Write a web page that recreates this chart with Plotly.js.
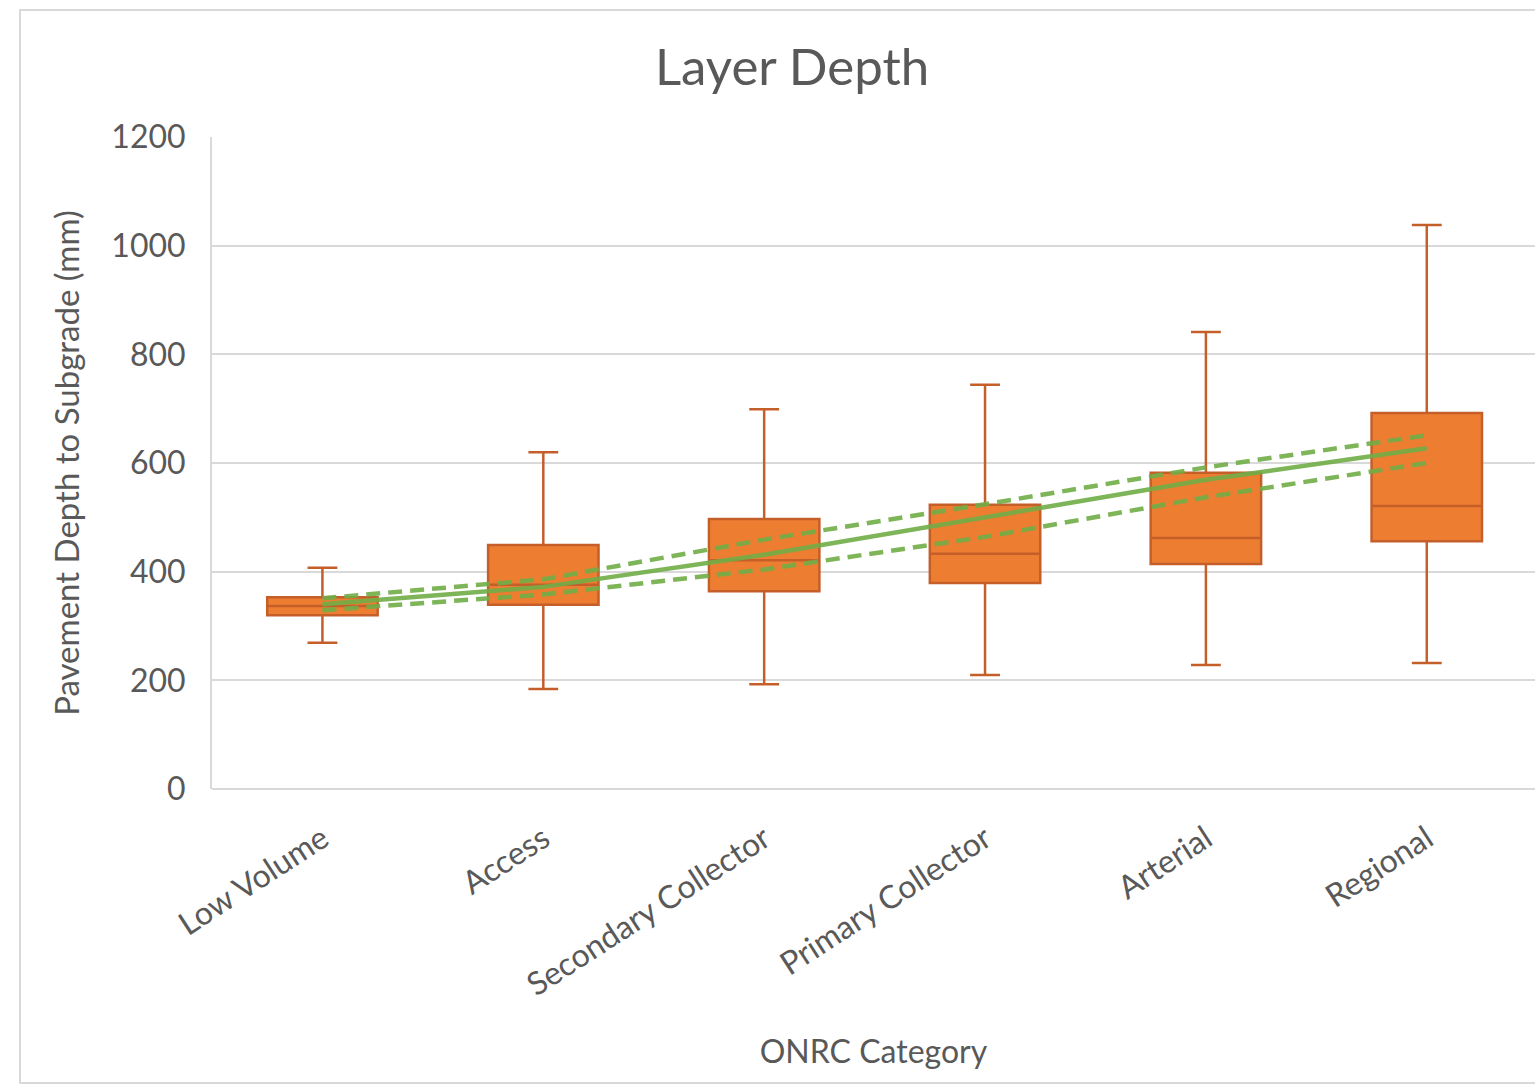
<!DOCTYPE html>
<html>
<head>
<meta charset="utf-8">
<script src="https://cdn.plot.ly/plotly-3.0.1.min.js"></script>
<style>
  html, body { margin: 0; padding: 0; background: #ffffff; overflow: hidden; }
  #chart { width: 1535px; height: 1085px; }
  #frame { position: absolute; left: 19px; top: 9px; width: 1530px; height: 1071px;
           border: 2px solid #d9d9d9; border-right: none; pointer-events: none; }
</style>
</head>
<body>
<div id="chart"></div>
<div id="frame"></div>
<script>
const categories = ["Low Volume", "Access", "Secondary Collector", "Primary Collector", "Arterial", "Regional"];
const whiskerLow  = [269, 184, 193, 210, 228, 232];
const q1Values    = [320, 339, 364, 379, 414, 456];
const medianVals  = [337, 376, 421, 433, 462, 521];
const q3Values    = [353, 449, 497, 523, 582, 692];
const whiskerHigh = [407, 620, 699, 744, 841, 1038];

const trendMid   = [340, 372, 431, 501, 569, 627];
const trendUpper = [351, 386, 459, 524, 592, 651];
const trendLower = [329, 358, 404, 464, 537, 600];

const textColor = "#595959";
const fontFam = "Lato, 'Open Sans', sans-serif";

const boxTrace = {
  type: "box",
  x: categories,
  q1: q1Values,
  median: medianVals,
  q3: q3Values,
  lowerfence: whiskerLow,
  upperfence: whiskerHigh,
  fillcolor: "#ED7D31",
  line: { color: "#C55F2A", width: 2.5 },
  width: 0.5,
  whiskerwidth: 0.27,
  boxpoints: false,
  hoverinfo: "skip",
  showlegend: false
};

function lineTrace(vals, dash) {
  return {
    type: "scatter",
    mode: "lines",
    x: categories,
    y: vals,
    line: { color: "#70AD47", width: 4.5, dash: dash },
    opacity: 0.9,
    hoverinfo: "skip",
    showlegend: false
  };
}

const data = [boxTrace, lineTrace(trendUpper, "14px,8px"), lineTrace(trendMid, "solid"), lineTrace(trendLower, "14px,8px")];

const layout = {
  width: 1535,
  height: 1085,
  paper_bgcolor: "#ffffff",
  plot_bgcolor: "#ffffff",
  margin: { l: 212, r: 0, t: 137, b: 296 },
  font: { family: fontFam, color: textColor },
  title: {
    text: "Layer Depth",
    font: { size: 51, color: textColor, family: fontFam },
    x: 0.516, xanchor: "center",
    y: 0.938, yanchor: "middle"
  },
  xaxis: {
    type: "category",
    range: [-0.5, 5.49],
    tickangle: -33,
    tickfont: { size: 32, color: textColor },
    ticklabelstandoff: 24,
    showline: false,
    showgrid: false,
    zeroline: false,
    ticks: "",
    title: { text: "ONRC Category", font: { size: 32, color: textColor }, standoff: 38 },
    automargin: false
  },
  yaxis: {
    range: [0, 1200],
    dtick: 200,
    tickfont: { size: 32, color: textColor },
    ticklabelstandoff: 18,
    showgrid: true,
    gridcolor: "#D9D9D9",
    gridwidth: 2,
    zeroline: true,
    zerolinecolor: "#D9D9D9",
    zerolinewidth: 2,
    showline: true,
    linecolor: "#D9D9D9",
    linewidth: 2,
    ticks: "",
    title: { text: "Pavement Depth to Subgrade (mm)", font: { size: 33, color: textColor }, standoff: 22 },
    automargin: false
  }
};

Plotly.newPlot("chart", data, layout, { displayModeBar: false, staticPlot: true });
</script>
</body>
</html>
